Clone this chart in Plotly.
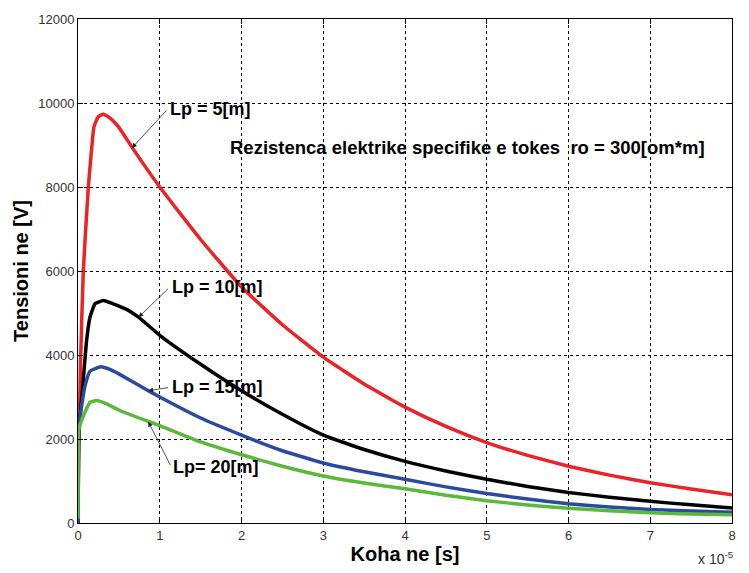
import plotly.graph_objects as go

# time in units of 1e-5 s, voltage in V
t_lp5 = [0, 0.008, 0.033, 0.065, 0.126, 0.155, 0.196, 0.25, 0.31, 0.4, 0.5, 0.68, 1.0, 1.5, 2.0, 2.5, 3.0, 3.5, 4.0, 4.5, 5.0, 5.5, 6.0, 6.5, 7.0, 7.5, 8.0]
v_lp5 = [0, 1600, 3970, 6000, 7990, 8655, 9437, 9680, 9733, 9630, 9420, 8890, 8000, 6750, 5620, 4720, 3950, 3310, 2760, 2300, 1915, 1610, 1352, 1140, 960, 810, 672]

t_lp10 = [0, 0.008, 0.024, 0.065, 0.106, 0.147, 0.208, 0.31, 0.43, 0.6, 0.74, 1.0, 1.5, 2.0, 2.5, 3.0, 3.5, 4.0, 4.5, 5.0, 5.5, 6.0, 6.5, 7.0, 7.5, 8.0]
v_lp10 = [0, 2000, 2484, 3420, 4360, 4905, 5219, 5300, 5220, 5080, 4900, 4470, 3780, 3150, 2590, 2094, 1750, 1468, 1240, 1040, 870, 727, 615, 516, 432, 360]

t_lp15 = [0, 0.008, 0.016, 0.045, 0.086, 0.147, 0.28, 0.39, 0.51, 0.86, 1.0, 1.5, 2.0, 2.5, 3.0, 3.5, 4.0, 4.5, 5.0, 5.5, 6.0, 6.5, 7.0, 7.5, 8.0]
v_lp15 = [0, 2000, 2406, 2797, 3265, 3617, 3719, 3656, 3539, 3150, 3000, 2500, 2094, 1720, 1430, 1220, 1040, 860, 703, 570, 460, 380, 320, 285, 258]

t_lp20 = [0, 0.008, 0.024, 0.086, 0.147, 0.23, 0.35, 0.51, 0.88, 1.0, 1.5, 2.0, 2.5, 3.0, 3.5, 4.0, 4.5, 5.0, 5.5, 6.0, 6.5, 7.0, 7.5, 8.0]
v_lp20 = [100, 2200, 2327, 2641, 2875, 2914, 2836, 2679, 2406, 2320, 1930, 1625, 1350, 1118, 950, 815, 660, 531, 430, 350, 290, 242, 215, 195]

x_ticks = [0, 1, 2, 3, 4, 5, 6, 7, 8]
y_ticks = [0, 2000, 4000, 6000, 8000, 10000, 12000]

FONT = "Liberation Sans, Arial, sans-serif"

series = [
    (t_lp5, v_lp5, "#ec2227", "Lp = 5[m]"),
    (t_lp10, v_lp10, "#000000", "Lp = 10[m]"),
    (t_lp15, v_lp15, "#2a4a9e", "Lp = 15[m]"),
    (t_lp20, v_lp20, "#5cb83a", "Lp= 20[m]"),
]

fig = go.Figure()
for t, v, c, name in series:
    fig.add_trace(go.Scatter(x=t, y=v, mode="lines", name=name,
                             line=dict(color=c, width=3.5, shape="spline", smoothing=0.4)))

# annotations: (text, text-x, text-y, arrow tip x, arrow tip y) in data coords
labels = [
    ("Lp = 5[m]", 1.10, 9860, 0.66, 8930),
    ("Lp = 10[m]", 1.12, 5610, 0.74, 4900),
    ("Lp = 15[m]", 1.12, 3230, 0.86, 3150),
    ("Lp= 20[m]", 1.14, 1340, 0.86, 2410),
]
for text, tx, ty, ax_, ay_ in labels:
    fig.add_annotation(x=ax_, y=ay_, ax=tx, ay=ty, axref="x", ayref="y",
                       text="", showarrow=True, arrowhead=2, arrowsize=1.2,
                       arrowwidth=0.8, arrowcolor="#222222")
    fig.add_annotation(x=tx, y=ty, text="<b>%s</b>" % text, showarrow=False,
                       xanchor="left", yanchor="middle",
                       font=dict(family=FONT, size=18, color="#000000"))

fig.add_annotation(x=1.84, y=8930, text="<b>Rezistenca elektrike specifike e tokes  ro = 300[om*m]</b>",
                   showarrow=False, xanchor="left", yanchor="middle",
                   font=dict(family=FONT, size=18.5, color="#000000"))

fig.add_annotation(xref="paper", yref="paper", x=1.006, y=-0.092,
                   text="x 10<sup>-5</sup>", showarrow=False, xanchor="right", yanchor="bottom",
                   font=dict(family=FONT, size=14, color="#333333"))

axis_common = dict(showline=True, linecolor="#000000", linewidth=1, mirror="ticks",
                   ticks="inside", ticklen=5, tickcolor="#000000",
                   showgrid=True, gridcolor="#000000", gridwidth=1, griddash="3px,3px",
                   zeroline=False, tickfont=dict(family=FONT, size=13, color="#333333"))

fig.update_xaxes(range=[0, 8], tickvals=x_ticks, ticktext=[str(v) for v in x_ticks],
                 title=dict(text="<b>Koha ne [s]</b>", font=dict(family=FONT, size=20, color="#000000"), standoff=4),
                 **axis_common)
fig.update_yaxes(range=[0, 12000], tickvals=y_ticks, ticktext=[str(v) for v in y_ticks],
                 title=dict(text="<b>Tensioni ne [V]</b>", font=dict(family=FONT, size=20, color="#000000"), standoff=4),
                 **axis_common)

fig.update_layout(width=749, height=573, margin=dict(l=78, r=17, t=14, b=47),
                  paper_bgcolor="#ffffff", plot_bgcolor="#ffffff", showlegend=False)

fig.write_html("out.html")
